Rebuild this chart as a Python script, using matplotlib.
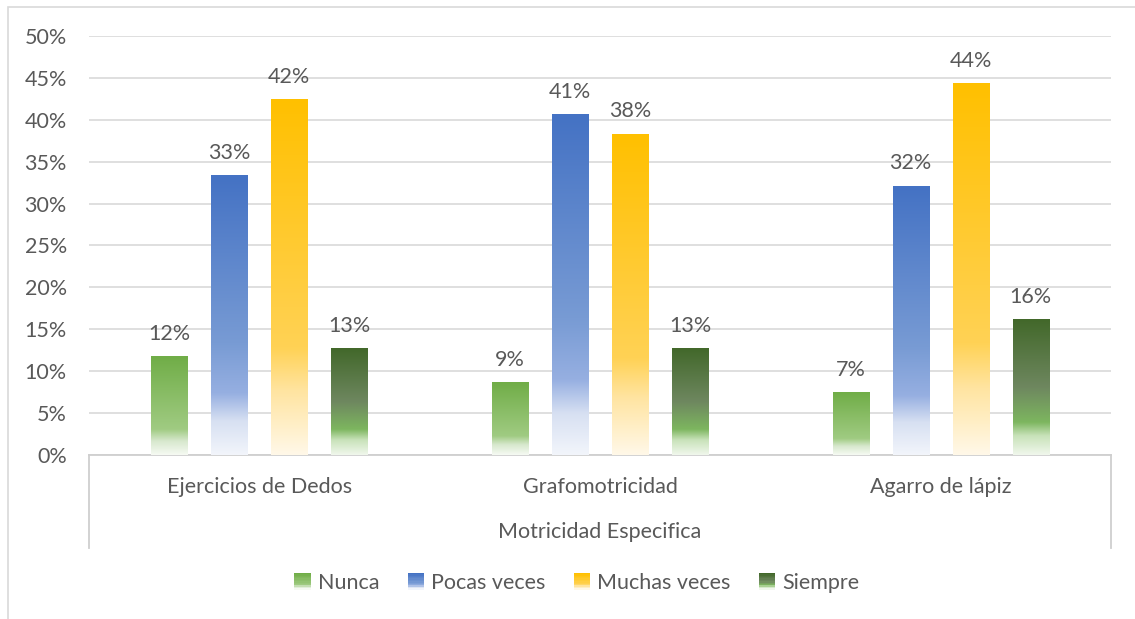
import numpy as np
import matplotlib
matplotlib.use("Agg")
import matplotlib.pyplot as plt
from matplotlib.patches import Rectangle
from matplotlib.legend_handler import HandlerBase

plt.rcParams["font.family"] = ["Lato", "DejaVu Sans"]

categories = ["Ejercicios de Dedos", "Grafomotricidad", "Agarro de lápiz"]
group_label = "Motricidad Especifica"
series_names = ["Nunca", "Pocas veces", "Muchas veces", "Siempre"]
nunca = [11.7, 8.6, 7.4]
pocas = [33.3, 40.6, 32.1]
muchas = [42.4, 38.3, 44.3]
siempre = [12.7, 12.7, 16.2]
value_labels = [["12%", "9%", "7%"], ["33%", "41%", "32%"],
                ["42%", "38%", "44%"], ["13%", "13%", "16%"]]
y_ticks = [0, 5, 10, 15, 20, 25, 30, 35, 40, 45, 50]

# gradient stops: (position from top, rgb)
gradients = [
    [(0.0, (112, 173, 71)), (0.74, (160, 203, 130)), (0.86, (215, 232, 205)), (1.0, (246, 250, 243))],
    [(0.0, (68, 114, 196)), (0.6, (120, 155, 212)), (0.78, (150, 175, 225)), (0.88, (215, 224, 242)), (1.0, (242, 245, 251))],
    [(0.0, (255, 192, 0)), (0.7, (255, 210, 85)), (0.82, (255, 228, 160)), (1.0, (255, 248, 232))],
    [(0.0, (66, 104, 42)), (0.5, (110, 135, 95)), (0.76, (125, 182, 95)), (0.86, (200, 226, 185)), (1.0, (240, 247, 236))],
]
series = [nunca, pocas, muchas, siempre]
text_color = "#595959"
grid_color = "#d9d9d9"
fs = 15.5


def grad_array(stops, n=200):
    pos = np.array([s[0] for s in stops])
    cols = np.array([s[1] for s in stops], dtype=float) / 255
    t = np.linspace(0, 1, n)
    arr = np.stack([np.interp(t, pos, cols[:, k]) for k in range(3)], axis=1)
    return arr[:, None, :]


class GradHandle:
    def __init__(self, stops, label):
        self.stops = stops
        self.label = label

    def get_label(self):
        return self.label


class GradHandler(HandlerBase):
    def create_artists(self, legend, orig_handle, xdescent, ydescent, width, height, fontsize, trans):
        arr = grad_array(orig_handle.stops, 12)[:, 0, :]
        n = len(arr)
        size = min(width, height)
        x0 = -xdescent + (width - size) / 2
        y0 = -ydescent + (height - size) / 2
        out = []
        for i, c in enumerate(arr):
            r = Rectangle((x0, y0 + size * (n - 1 - i) / n), size, size / n + 0.2,
                          facecolor=c, edgecolor="none", transform=trans)
            out.append(r)
        return out


fig = plt.figure(figsize=(11.35, 6.19), dpi=100)
ax = fig.add_axes([89 / 1135, 1 - 455 / 619, 1022 / 1135, 419 / 619])

bar_w = 0.106
step = 0.176
x = np.arange(len(categories))
for i, vals in enumerate(series):
    img = grad_array(gradients[i])
    for j, v in enumerate(vals):
        xc = x[j] + (i - 1.5) * step
        ax.imshow(img, extent=[xc - bar_w / 2, xc + bar_w / 2, 0, v],
                  aspect="auto", interpolation="bilinear", zorder=3)
        ax.text(xc, v + 1.5, value_labels[i][j], ha="center", va="bottom",
                fontsize=fs, color=text_color, zorder=4)

ax.set_xlim(-0.5, len(categories) - 0.5)
ax.set_ylim(0, 50)
ax.set_yticks(y_ticks)
ax.set_yticklabels([f"{t}%" for t in y_ticks])
ax.yaxis.grid(True, color=grid_color, lw=1.2, zorder=0)
ax.set_axisbelow(True)
ax.set_xticks(x)
ax.set_xticklabels(categories)
ax.tick_params(axis="both", length=0, labelsize=fs, labelcolor=text_color)
ax.tick_params(axis="y", pad=16)
ax.tick_params(axis="x", pad=16)
for s in ["top", "right", "left"]:
    ax.spines[s].set_visible(False)
ax.spines["bottom"].set_color("#cfcfcf")
ax.spines["bottom"].set_linewidth(1.3)

# outer separators of the category axis
sep_h = 93 / 419 * 50
for xs in [-0.5, len(categories) - 0.5]:
    ax.plot([xs, xs], [0, -sep_h], color="#cfcfcf", lw=1.3, clip_on=False)
ax.text(np.mean(x), -77 / 419 * 50, group_label, ha="center", va="center",
        fontsize=fs, color=text_color)

handles = [GradHandle(gradients[i], series_names[i]) for i in range(4)]
fig.legend(handles=handles, labels=series_names, loc="center",
           bbox_to_anchor=(0.508, 1 - 583 / 619), ncol=4, frameon=False,
           handler_map={GradHandle: GradHandler()}, fontsize=15.5,
           labelcolor=text_color, handlelength=0.8, handleheight=0.8,
           handletextpad=0.3, columnspacing=1.3)

# chart border
fig.patches.append(Rectangle((8 / 1135, -0.05), 1.2, 1 - 6.5 / 619 + 0.05,
                             transform=fig.transFigure, facecolor="none",
                             edgecolor="#d9d9d9", lw=1.2))

fig.savefig("out.png", dpi=100)
